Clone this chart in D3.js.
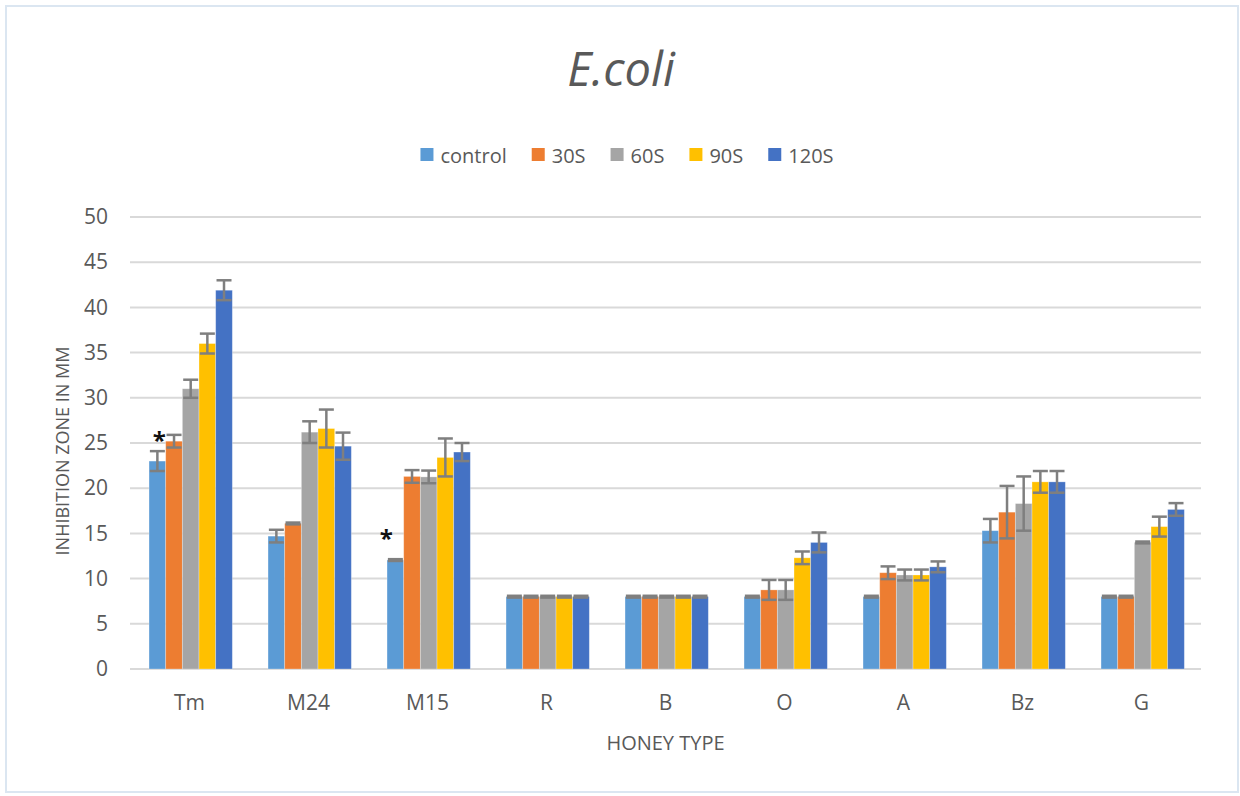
<!DOCTYPE html>
<html>
<head>
<meta charset="utf-8">
<script src="https://cdn.jsdelivr.net/npm/d3@7"></script>
<style>
  body { margin: 0; background: #fff; }
  text { font-family: "Open Sans", sans-serif; fill: #595959; }
</style>
</head>
<body>
<div id="chart"></div>
<script>
const W = 1240, H = 796;
const margin = {top: 217, right: 39, bottom: 127, left: 130};

// data
const honeyTypes = ["Tm", "M24", "M15", "R", "B", "O", "A", "Bz", "G"];
const seriesNames = ["control", "30S", "60S", "90S", "120S"];
const seriesColors = ["#5b9bd5", "#ed7d31", "#a5a5a5", "#ffc000", "#4472c4"];
const controlVals = [23.0, 14.7, 12.05, 8, 8, 8, 8, 15.3, 8];
const s30Vals     = [25.2, 16.1, 21.3, 8, 8, 8.75, 10.65, 17.35, 8];
const s60Vals     = [31.0, 26.2, 21.25, 8, 8, 8.75, 10.4, 18.3, 14.0];
const s90Vals     = [36.0, 26.6, 23.4, 8, 8, 12.3, 10.4, 20.7, 15.75];
const s120Vals    = [41.9, 24.65, 24.0, 8, 8, 14.0, 11.3, 20.7, 17.65];
const controlErr  = [1.1, 0.7, 0.1, 0.1, 0.1, 0.1, 0.1, 1.3, 0.1];
const s30Err      = [0.7, 0.1, 0.7, 0.1, 0.1, 1.1, 0.7, 2.9, 0.1];
const s60Err      = [1.0, 1.2, 0.7, 0.1, 0.1, 1.1, 0.6, 3.0, 0.1];
const s90Err      = [1.1, 2.1, 2.1, 0.1, 0.1, 0.7, 0.6, 1.2, 1.1];
const s120Err     = [1.1, 1.5, 1.0, 0.1, 0.1, 1.1, 0.6, 1.2, 0.7];
const yTicks = [0, 5, 10, 15, 20, 25, 30, 35, 40, 45, 50];
const starred = [{cat: "Tm", series: "control"}, {cat: "M15", series: "control"}];

const allVals = [controlVals, s30Vals, s60Vals, s90Vals, s120Vals];
const allErr = [controlErr, s30Err, s60Err, s90Err, s120Err];

const innerW = W - margin.left - margin.right,
      innerH = H - margin.top - margin.bottom;

const svg = d3.select("#chart").append("svg")
    .attr("width", W).attr("height", H);

// chart frame
svg.append("rect")
    .attr("x", 6).attr("y", 6).attr("width", W - 8).attr("height", H - 10)
    .attr("fill", "#fff").attr("stroke", "#dbe6f1").attr("stroke-width", 2);

const g = svg.append("g").attr("transform", `translate(${margin.left},${margin.top})`);

const x0 = d3.scaleBand().domain(honeyTypes).range([0, innerW]);
const x1 = d3.scaleBand().domain(seriesNames)
    .range([x0.bandwidth() * 0.16, x0.bandwidth() * 0.86]);
const y = d3.scaleLinear().domain([0, 50]).range([innerH, 0]);

// gridlines
g.selectAll(".grid").data(yTicks).join("line")
    .attr("x1", 0).attr("x2", innerW)
    .attr("y1", d => y(d)).attr("y2", d => y(d))
    .attr("stroke", "#d9d9d9").attr("stroke-width", 2);

// y tick labels
const yAxis = g.append("g").call(d3.axisLeft(y).tickValues(yTicks).tickSize(0).tickPadding(22));
yAxis.select(".domain").remove();
yAxis.selectAll("text").style("font-size", "21px").attr("fill", "#595959");

// x axis labels
const xAxis = g.append("g").attr("transform", `translate(0,${innerH})`)
    .call(d3.axisBottom(x0).tickSize(0).tickPadding(26));
xAxis.select(".domain").remove();
xAxis.selectAll("text").style("font-size", "21px").attr("fill", "#595959");

// rows for bars
const rows = [];
honeyTypes.forEach((cat, i) => {
  seriesNames.forEach((s, j) => {
    rows.push({cat: cat, series: s, color: seriesColors[j], value: allVals[j][i], err: allErr[j][i]});
  });
});

g.selectAll(".bar").data(rows).join("rect")
    .attr("class", "bar")
    .attr("x", d => x0(d.cat) + x1(d.series))
    .attr("y", d => y(d.value))
    .attr("width", x1.bandwidth())
    .attr("height", d => y(0) - y(d.value))
    .attr("fill", d => d.color)
    .attr("stroke", "#fff").attr("stroke-opacity", 0.35).attr("stroke-width", 0.8);

// error bars
const cap = x1.bandwidth() * 0.45;
const eb = g.selectAll(".err").data(rows).join("g").attr("class", "err")
    .attr("stroke", "#7f7f7f").attr("stroke-width", 2.5);
eb.append("line")
    .attr("x1", d => x0(d.cat) + x1(d.series) + x1.bandwidth() / 2)
    .attr("x2", d => x0(d.cat) + x1(d.series) + x1.bandwidth() / 2)
    .attr("y1", d => y(d.value + d.err)).attr("y2", d => y(d.value - d.err));
eb.append("line")
    .attr("x1", d => x0(d.cat) + x1(d.series) + x1.bandwidth() / 2 - cap)
    .attr("x2", d => x0(d.cat) + x1(d.series) + x1.bandwidth() / 2 + cap)
    .attr("y1", d => y(d.value + d.err)).attr("y2", d => y(d.value + d.err));
eb.append("line")
    .attr("x1", d => x0(d.cat) + x1(d.series) + x1.bandwidth() / 2 - cap)
    .attr("x2", d => x0(d.cat) + x1(d.series) + x1.bandwidth() / 2 + cap)
    .attr("y1", d => y(d.value - d.err)).attr("y2", d => y(d.value - d.err));

// asterisks marking significance
g.selectAll(".star").data(starred).join("text")
    .attr("x", d => x0(d.cat) + x1(d.series) + x1.bandwidth() / 2)
    .attr("y", d => {
      const r = rows.find(r => r.cat === d.cat && r.series === d.series);
      return y(r.value + r.err) - 2;
    })
    .attr("dx", d => d.cat === "M15" ? -9 : 2)
    .attr("dy", d => d.cat === "M15" ? -10 : 0)
    .attr("text-anchor", "middle")
    .style("font-size", "24px").style("font-weight", "bold")
    .style("fill", "#111")
    .text("*");

// title
svg.append("text")
    .attr("x", 621).attr("y", 86)
    .attr("text-anchor", "middle")
    .style("font-size", "47px").style("font-style", "italic")
    .text("E.coli");

// axis titles
svg.append("text")
    .attr("x", margin.left + innerW / 2).attr("y", 750)
    .attr("text-anchor", "middle")
    .style("font-size", "20px")
    .text("HONEY TYPE");
svg.append("text")
    .attr("transform", `translate(69,451) rotate(-90)`)
    .attr("text-anchor", "middle")
    .style("font-size", "18px")
    .text("INHIBITION ZONE IN MM");

// legend
const legend = svg.append("g");
let lx = 0;
seriesNames.forEach((s, j) => {
  const item = legend.append("g").attr("transform", `translate(${lx},0)`);
  item.append("rect").attr("x", 0).attr("y", -7).attr("width", 13).attr("height", 13)
      .attr("fill", seriesColors[j]);
  const t = item.append("text").attr("x", 20).attr("y", 8)
      .style("font-size", "20px").text(s);
  lx += 20 + t.node().getComputedTextLength() + 25;
});
const legW = lx - 25;
legend.attr("transform", `translate(${627 - legW / 2},155)`);
</script>
</body>
</html>
